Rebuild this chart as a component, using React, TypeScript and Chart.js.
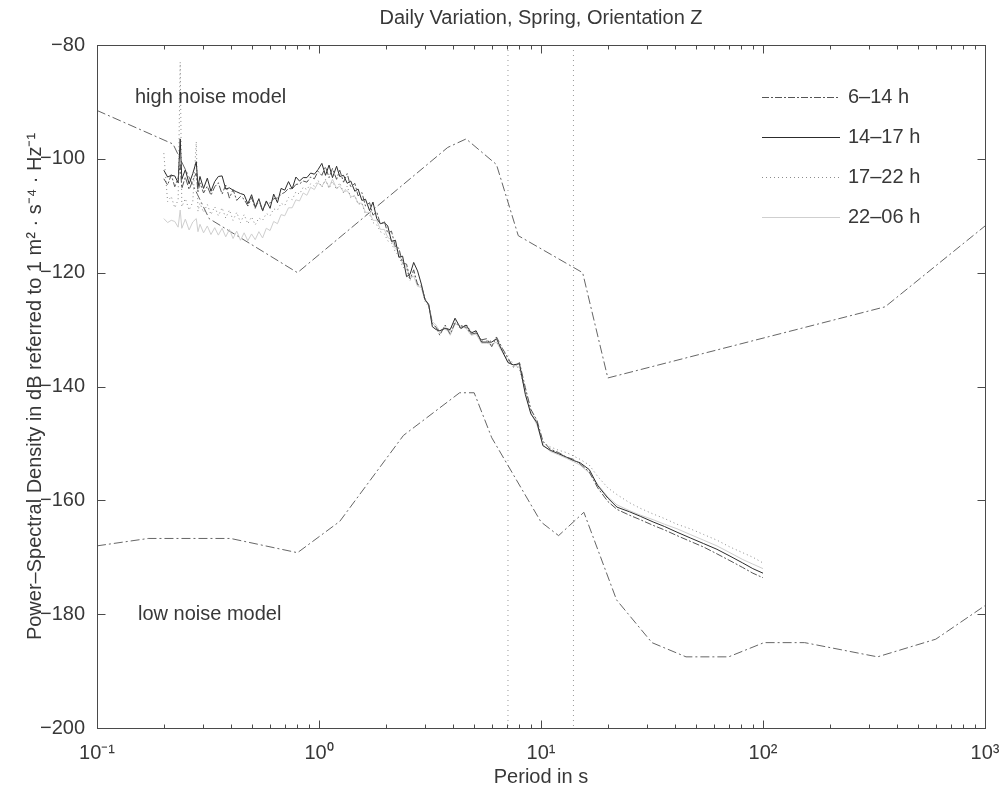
import React, { useEffect, useRef } from "react";
import { Chart, registerables } from "chart.js";

Chart.register(...registerables);

const FONT = '"Liberation Sans", Arial, Helvetica, sans-serif';
const INK = "#383838";
const FS = 20;

const chartTitle = "Daily Variation, Spring, Orientation Z";
const xTitle = "Period in s";
const yTitle = "Power\u2013Spectral Density in dB referred to 1 m\u00B2 \u00B7 s\u207B\u2074 \u00B7 Hz\u207B\u00B9";
const noteHigh = "high noise model";
const noteLow = "low noise model";

// Periods (s) at which the spectra were evaluated
const periods = [
  0.200, 0.208, 0.216, 0.224, 0.232, 0.237, 0.241, 0.250, 0.260, 0.270,
  0.280, 0.285, 0.291, 0.302, 0.314, 0.326, 0.339, 0.352, 0.366, 0.380,
  0.395, 0.410, 0.426, 0.443, 0.460, 0.478, 0.497, 0.516, 0.536, 0.557,
  0.579, 0.602, 0.625, 0.650, 0.675, 0.701, 0.729, 0.757, 0.787, 0.817,
  0.849, 0.882, 0.917, 0.953, 0.990, 1.03, 1.07, 1.11, 1.15, 1.20,
  1.24, 1.29, 1.34, 1.39, 1.45, 1.50, 1.56, 1.62, 1.69, 1.75,
  1.82, 1.89, 1.97, 2.04, 2.12, 2.21, 2.29, 2.38, 2.48, 2.57,
  2.67, 2.78, 2.89, 3.00, 3.12, 3.24, 3.37, 3.50, 3.70, 3.90,
  4.10, 4.35, 4.60, 4.85, 5.10, 5.40, 5.70, 6.00, 6.30, 6.70,
  7.10, 7.50, 8.00, 8.50, 9.00, 9.60, 10.2, 11.0, 12.0, 13.0,
  14.0, 15.0, 16.5, 18.0, 20.0, 22.0, 25.0, 28.0, 32.0, 36.0,
  41.0, 47.0, 54.0, 62.0, 71.0, 81.0, 90.0, 100.0,
];

// PSD, 6–14 h
const psd0614 = [
  -103.5, -104.6, -102.8, -104.9, -103.4, -101.0, -105.2, -103.2, -105.4, -103.8,
  -102.5, -105.8, -104.2, -106.0, -104.8, -106.4, -104.9, -104.2, -106.2, -104.6,
  -106.9, -105.4, -107.3, -106.6, -107.1, -108.3, -106.8, -108.7, -107.2, -109.2,
  -107.6, -107.8, -107.0, -106.9, -106.2, -105.9, -105.2, -105.3, -104.5, -104.4,
  -103.9, -104.1, -103.2, -103.5, -102.2, -102.9, -101.4, -103.3, -101.7, -103.6,
  -102.0, -104.1, -102.6, -105.0, -104.3, -106.5, -105.9, -108.3, -107.7, -109.9,
  -109.3, -111.5, -111.0, -113.1, -112.7, -115.5, -115.7, -118.3, -118.5, -121.1,
  -119.5, -122.1, -122.3, -124.5, -125.7, -128.9, -129.6, -131.0, -129.2, -130.8,
  -128.8, -129.3, -129.6, -130.8, -130.6, -131.8, -131.6, -133.0, -131.3, -133.3,
  -135.0, -136.6, -135.8, -140.2, -144.0, -146.0, -149.6, -151.0, -151.6, -152.4,
  -152.8, -153.6, -155.0, -157.8, -160.2, -161.6, -162.6, -163.4, -164.4, -165.2,
  -166.2, -167.2, -168.2, -169.4, -170.6, -171.8, -172.8, -173.6,
];

// PSD, 14–17 h
const psd1417 = [
  -102.0, -103.2, -102.9, -103.0, -104.2, -96.5, -103.6, -101.9, -104.4, -102.6,
  -100.5, -104.9, -103.1, -105.2, -103.4, -105.7, -104.0, -103.1, -103.0, -105.3,
  -105.1, -105.5, -105.8, -106.1, -106.3, -107.9, -106.3, -108.5, -107.0, -109.1,
  -107.4, -108.7, -106.2, -107.7, -105.2, -105.5, -104.0, -105.3, -103.2, -103.9,
  -103.3, -103.3, -102.5, -102.7, -101.9, -100.8, -102.9, -101.1, -103.3, -101.3,
  -103.1, -102.9, -104.3, -103.9, -105.7, -105.3, -107.3, -107.1, -109.1, -107.6,
  -110.5, -111.4, -111.2, -111.8, -114.5, -114.3, -117.3, -117.1, -120.7, -120.3,
  -118.2, -119.7, -122.0, -124.7, -125.6, -129.5, -130.0, -130.2, -129.8, -130.0,
  -128.0, -129.8, -129.2, -130.6, -130.2, -132.2, -132.2, -132.2, -131.6, -133.8,
  -135.8, -136.2, -136.0, -141.4, -144.8, -146.4, -150.4, -151.2, -151.8, -152.4,
  -153.0, -153.4, -154.6, -157.4, -159.6, -161.2, -162.0, -162.8, -163.8, -164.6,
  -165.6, -166.6, -167.6, -168.6, -169.8, -171.0, -172.0, -172.8,
];

// PSD, 17–22 h
const psd1722 = [
  -99.0, -107.5, -106.6, -108.6, -107.2, -83.0, -108.4, -107.0, -109.0, -107.6,
  -97.0, -109.2, -107.8, -109.4, -108.0, -109.8, -108.4, -110.0, -108.6, -110.4,
  -109.0, -110.8, -109.4, -111.2, -109.8, -111.4, -110.2, -111.6, -110.4, -110.8,
  -109.6, -110.0, -108.8, -109.0, -107.8, -108.2, -106.8, -107.2, -105.8, -106.2,
  -105.0, -105.4, -104.4, -104.8, -103.8, -105.0, -103.6, -105.2, -104.0, -105.4,
  -104.2, -106.0, -104.8, -106.8, -106.4, -108.0, -107.8, -109.8, -109.8, -111.2,
  -111.6, -112.8, -113.2, -114.4, -114.8, -116.4, -117.0, -119.0, -119.4, -121.4,
  -120.0, -122.0, -122.4, -125.0, -126.0, -129.0, -129.8, -130.0, -130.0, -130.2,
  -128.4, -130.0, -129.0, -130.4, -130.4, -132.0, -132.0, -132.0, -132.2, -133.6,
  -135.4, -135.8, -137.0, -140.8, -144.2, -146.2, -149.8, -150.6, -151.2, -151.6,
  -152.2, -152.8, -153.8, -155.8, -157.8, -159.0, -160.4, -161.4, -162.4, -163.2,
  -164.2, -165.0, -166.0, -167.0, -168.2, -169.2, -170.0, -171.0,
];

// PSD, 22–06 h
const psd2206 = [
  -110.5, -111.2, -110.8, -111.0, -112.0, -109.0, -112.2, -110.6, -112.5, -111.1,
  -110.5, -112.8, -111.5, -113.0, -111.8, -113.3, -112.1, -113.4, -112.2, -113.7,
  -112.4, -114.0, -112.7, -114.3, -113.0, -114.4, -113.2, -114.2, -112.8, -113.9,
  -112.2, -112.6, -111.0, -111.4, -109.8, -110.0, -108.6, -108.6, -107.2, -107.4,
  -106.0, -106.4, -105.0, -105.4, -104.2, -104.8, -103.8, -105.0, -103.6, -105.2,
  -104.8, -105.8, -105.6, -106.6, -106.6, -107.8, -107.8, -109.4, -109.4, -110.8,
  -110.8, -112.4, -112.4, -113.8, -114.2, -115.8, -116.4, -118.4, -119.0, -121.0,
  -120.6, -122.4, -122.6, -124.8, -125.6, -128.6, -129.2, -130.6, -129.4, -131.0,
  -129.0, -129.4, -129.8, -131.0, -130.8, -132.4, -132.4, -132.6, -132.2, -134.0,
  -135.6, -136.2, -136.6, -141.0, -144.6, -146.8, -150.2, -151.4, -152.0, -152.6,
  -153.2, -153.8, -155.2, -157.2, -159.4, -160.8, -161.8, -162.6, -163.4, -164.2,
  -165.0, -166.0, -167.0, -168.0, -169.2, -170.4, -171.2, -172.0,
];

// New High Noise Model breakpoints
const nhnmPeriods = [0.1, 0.22, 0.32, 0.8, 3.8, 4.6, 6.3, 7.9, 15.4, 20, 354.8, 1000];
const nhnmLevels = [-91.5, -97.4, -110.5, -120.0, -98.0, -96.5, -101.0, -113.5, -120.0, -138.5, -126.0, -111.8];

// New Low Noise Model breakpoints
const nlnmPeriods = [0.1, 0.17, 0.4, 0.8, 1.24, 2.4, 4.3, 5.0, 6.0, 10, 12, 15.6, 21.9, 31.6, 45, 70, 101, 154, 328, 600, 1000];
const nlnmLevels = [-168.0, -166.7, -166.7, -169.2, -163.7, -148.6, -141.1, -141.1, -149.0, -163.8, -166.2, -162.1, -177.5, -185.0, -187.5, -187.5, -185.0, -185.0, -187.5, -184.4, -178.5];

// Reference periods marked by vertical lines
const markerPeriods = [7.1, 14.0];

const yTickValues = [-200, -180, -160, -140, -120, -100, -80];
const xMajorValues = [0.1, 1, 10, 100, 1000];
const xMajorLabels = ["10\u207B\u00B9", "10\u2070", "10\u00B9", "10\u00B2", "10\u00B3"];

const seriesLabels = ["6\u201314 h", "14\u201317 h", "17\u201322 h", "22\u201306 h"];
const seriesValues = [psd0614, psd1417, psd1722, psd2206];
const seriesColors = ["#555555", "#2c2c2c", "#8c8c8c", "#cfcfcf"];
const seriesDashes: number[][] = [[7, 2, 2, 2], [], [1, 3], []];

const X_MIN = 0.1;
const X_MAX = 1000;
const Y_MIN = -200;
const Y_MAX = -80;

function pts(xs: number[], ys: number[]) {
  return xs.map((x, i) => ({ x, y: ys[i] }));
}

function xTickList() {
  const list: number[] = [];
  for (let e = -1; e <= 2; e++) {
    for (let m = 1; m <= 9; m++) list.push(Number((m * Math.pow(10, e)).toPrecision(3)));
  }
  list.push(1000);
  return list;
}

const framePlugin = {
  id: "frameAndNotes",
  beforeDraw(chart: any) {
    const { ctx, width, height } = chart;
    ctx.save();
    ctx.fillStyle = "#ffffff";
    ctx.fillRect(0, 0, width, height);
    ctx.restore();
  },
  afterDraw(chart: any) {
    const { ctx, chartArea: a, scales } = chart;
    const xs = scales.x;
    const ys = scales.y;
    const L = Math.round(a.left) + 0.5;
    const R = Math.round(a.right) + 0.5;
    const T = Math.round(a.top) + 0.5;
    const B = Math.round(a.bottom) + 0.5;
    ctx.save();
    ctx.strokeStyle = "#4a4a4a";
    ctx.lineWidth = 1;
    ctx.setLineDash([]);
    ctx.strokeRect(L, T, R - L, B - T);

    // inward tick marks
    ctx.beginPath();
    for (const v of xTickList()) {
      const px = Math.round(xs.getPixelForValue(v)) + 0.5;
      const major = xMajorValues.includes(v);
      const len = major ? 8 : 4;
      ctx.moveTo(px, B);
      ctx.lineTo(px, B - len);
      ctx.moveTo(px, T);
      ctx.lineTo(px, T + len);
    }
    for (const v of yTickValues) {
      const py = Math.round(ys.getPixelForValue(v)) + 0.5;
      ctx.moveTo(L, py);
      ctx.lineTo(L + 8, py);
      ctx.moveTo(R, py);
      ctx.lineTo(R - 8, py);
    }
    ctx.stroke();

    // title
    ctx.fillStyle = INK;
    ctx.font = `${FS}px ${FONT}`;
    ctx.textAlign = "center";
    ctx.textBaseline = "middle";
    ctx.fillText(chartTitle, (a.left + a.right) / 2, 18);

    // model labels
    ctx.textAlign = "left";
    ctx.fillText(noteHigh, 135, 97);
    ctx.fillText(noteLow, 138, 614);

    // legend
    const rows = [97, 137, 177, 217];
    seriesLabels.forEach((label, i) => {
      ctx.strokeStyle = seriesColors[i];
      ctx.setLineDash(seriesDashes[i]);
      ctx.beginPath();
      ctx.moveTo(762, rows[i] + 0.5);
      ctx.lineTo(840, rows[i] + 0.5);
      ctx.stroke();
      ctx.setLineDash([]);
      ctx.fillStyle = INK;
      ctx.fillText(label, 848, rows[i]);
    });
    ctx.restore();
  },
};

export default function App() {
  const ref = useRef<HTMLCanvasElement>(null);

  useEffect(() => {
    if (!ref.current) return;
    const modelStyle = {
      borderColor: "#666666",
      borderWidth: 1,
      borderDash: [9, 3, 2, 3],
      pointRadius: 0,
      fill: false,
      tension: 0,
    };
    const datasets: any[] = seriesLabels.map((label, i) => ({
      label,
      data: pts(periods, seriesValues[i]),
      borderColor: seriesColors[i],
      borderWidth: 1,
      borderDash: seriesDashes[i],
      pointRadius: 0,
      fill: false,
      tension: 0,
    }));
    datasets.push({ label: noteHigh, data: pts(nhnmPeriods, nhnmLevels), ...modelStyle });
    datasets.push({ label: noteLow, data: pts(nlnmPeriods, nlnmLevels), ...modelStyle });
    markerPeriods.forEach((p) => {
      datasets.push({
        label: `${p} s`,
        data: [{ x: p, y: Y_MAX }, { x: p, y: Y_MIN }],
        borderColor: "#9a9a9a",
        borderWidth: 1,
        borderDash: [1, 4],
        pointRadius: 0,
        fill: false,
      });
    });

    const chart = new Chart(ref.current, {
      type: "line",
      data: { datasets },
      options: {
        animation: false,
        responsive: false,
        devicePixelRatio: 1,
        parsing: false as any,
        normalized: true,
        layout: { padding: { top: 45, right: 20, left: 0, bottom: 0 }, autoPadding: false },
        plugins: {
          legend: { display: false },
          title: { display: false },
          tooltip: { enabled: false },
        },
        scales: {
          x: {
            type: "logarithmic",
            min: X_MIN,
            max: X_MAX,
            grid: { display: false, drawTicks: false },
            border: { display: false },
            afterBuildTicks: (s: any) => {
              s.ticks = xTickList().map((v) => ({ value: v }));
            },
            afterFit: (s: any) => {
              s.height = 64;
              s.paddingLeft = 0;
              s.paddingRight = 0;
            },
            ticks: {
              autoSkip: false,
              maxRotation: 0,
              padding: 13,
              color: INK,
              font: { family: FONT, size: FS },
              callback: (v: any) => {
                const i = xMajorValues.indexOf(Number(v));
                return i >= 0 ? xMajorLabels[i] : "";
              },
            },
            title: {
              display: true,
              text: xTitle,
              color: INK,
              font: { family: FONT, size: FS },
              padding: { top: 0, bottom: 3 },
            },
          },
          y: {
            type: "linear",
            min: Y_MIN,
            max: Y_MAX,
            grid: { display: false, drawTicks: false },
            border: { display: false },
            afterBuildTicks: (s: any) => {
              s.ticks = yTickValues.map((v) => ({ value: v }));
            },
            afterFit: (s: any) => {
              s.width = 97;
              s.paddingTop = 0;
              s.paddingBottom = 0;
            },
            ticks: {
              padding: 12,
              color: INK,
              font: { family: FONT, size: FS },
              callback: (v: any) => (Number(v) < 0 ? "\u2212" + Math.abs(Number(v)) : String(v)),
            },
            title: {
              display: true,
              text: yTitle,
              color: INK,
              font: { family: FONT, size: FS },
              padding: { top: 23, bottom: 0 },
            },
          },
        },
      },
      plugins: [framePlugin],
    });
    return () => chart.destroy();
  }, []);

  return (
    <div style={{ position: "absolute", left: 0, top: 0, width: 1005, height: 792, background: "#fff" }}>
      <canvas ref={ref} width={1005} height={792} style={{ display: "block", width: 1005, height: 792 }} />
    </div>
  );
}
